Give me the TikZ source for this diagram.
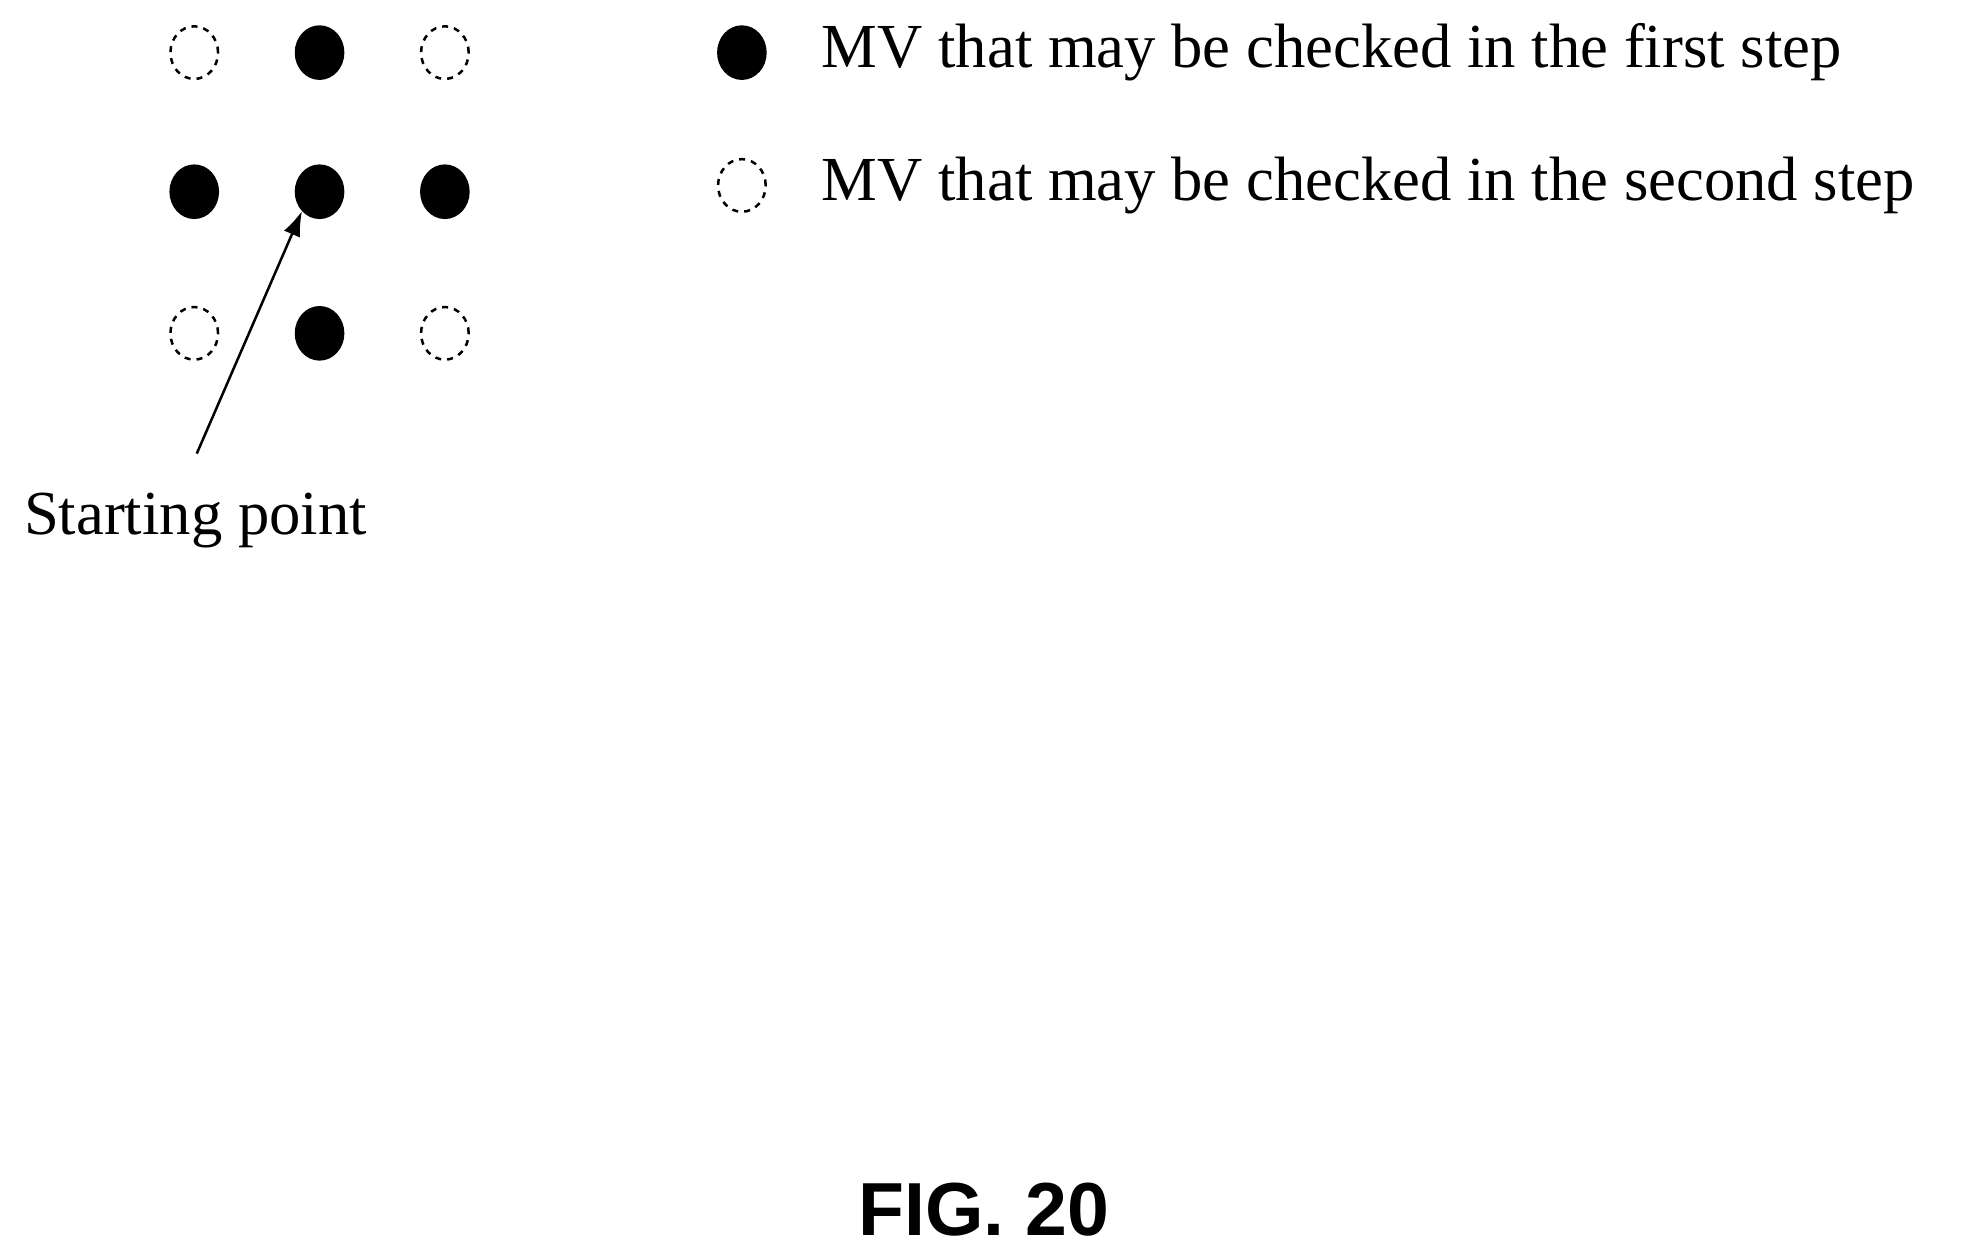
\documentclass[tikz,border=0pt]{standalone}
\usepackage{fontspec}
\setmainfont{Liberation Serif}
\newfontfamily\figfont{Liberation Sans}
\usetikzlibrary{shapes.geometric,arrows.meta}
\tikzset{
  firstmv/.style={ellipse, fill=black, draw=black, minimum width=9.5pt, minimum height=10.5pt, inner sep=0pt},
  secondmv/.style={ellipse, fill=none, draw=black, dashed, dash pattern=on 1.2pt off 1.2pt, line width=0.5pt, minimum width=9.5pt, minimum height=10.5pt, inner sep=0pt},
  legendtext/.style={right, font=\fontsize{12.5}{14}\selectfont, inner sep=0pt}
}
\begin{document}
\begin{tikzpicture}[x=0.25pt,y=-0.25pt]
\useasboundingbox (0,0) rectangle (1568,1003);
\node [secondmv] (a11) at (155,42) {};
\node [firstmv] (a12) at (255,42) {};
\node [secondmv] (a13) at (355,42) {};
\node [firstmv] (a21) at (155,153) {};
\node [firstmv] (a22) at (255,153) {};
\node [firstmv] (a23) at (355,153) {};
\node [secondmv] (a31) at (155,266) {};
\node [firstmv] (a32) at (255,266) {};
\node [secondmv] (a33) at (355,266) {};
\node [firstmv] (leg1) at (592,42) {};
\node [secondmv] (leg2) at (592,148) {};
\node [legendtext] (t1) at (655,42) {MV that may be checked in the first step};
\node [legendtext] (t2) at (655,148) {MV that may be checked in the second step};
\node [font=\fontsize{12.5}{14}\selectfont, inner sep=0pt] (start) at (156,415) {Starting point};
\coordinate (tail) at (157,362);
\draw [-{Latex[length=5pt,width=3.5pt]}, line width=0.5pt] (tail) -- (a22.south west);
\node [font=\figfont\bfseries\fontsize{15}{18}\selectfont] (fig) at (785,965) {FIG. 20};
\end{tikzpicture}
\end{document}
